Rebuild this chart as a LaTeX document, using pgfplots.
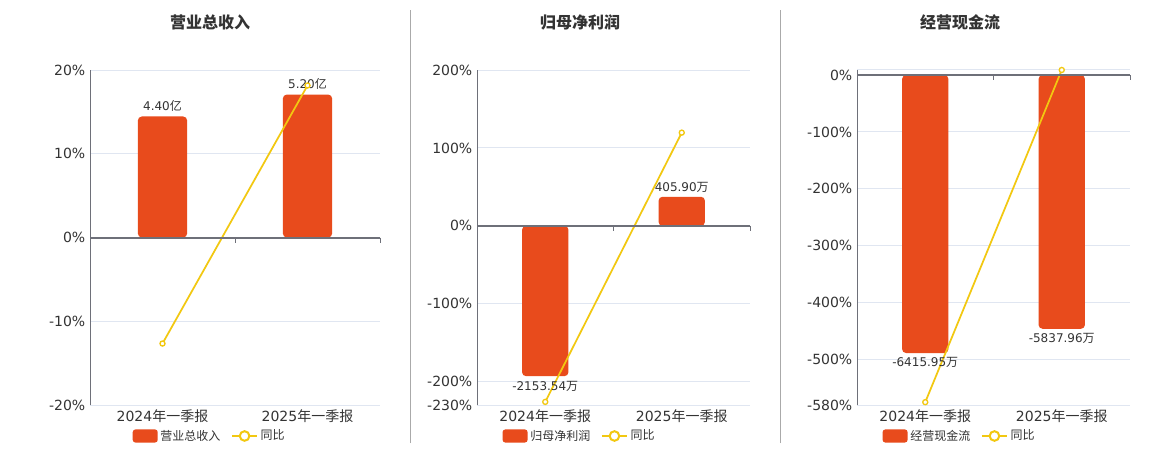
\documentclass[border=0pt]{standalone}
\usepackage{fontspec}
\setmainfont{DejaVu Sans}
\newfontfamily\cjk{Noto Sans CJK SC}
\usepackage{pgfplots}
\pgfplotsset{compat=1.18}

\definecolor{barred}{HTML}{E84B1C}
\definecolor{lineyel}{HTML}{F2C811}
\definecolor{gridc}{HTML}{E0E6F1}
\definecolor{axisc}{HTML}{6E7079}
\definecolor{txt}{HTML}{333333}
\definecolor{sepc}{HTML}{AAAAAA}

\pgfplotsset{
  panel/.style={
    scale only axis, height=251.25pt, anchor=south west,
    xmin=-0.5, xmax=1.5, xtick={0,1},
    xticklabels={2024{\cjk 年一季报},2025{\cjk 年一季报}},
    axis line style={draw=none},
    major tick length=0pt,
    ymajorgrids, major grid style={gridc, line width=0.75pt},
    /pgf/number format/assume math mode=true,
    /pgf/number format/1000 sep={},
    yticklabel={\pgfmathprintnumber{\tick}\%},
    tick label style={font=\fontsize{10.5}{12}\selectfont, text=txt},
    clip=false,
    legend columns=2,
    legend style={draw=none, fill=none, anchor=center,
      font=\cjk\fontsize{9}{11}\selectfont, text=txt,
      /tikz/every even column/.append style={column sep=6pt}},
  },
  bars/.style={ybar, bar width=0.34, fill=barred, draw=none,
    rounded corners=3pt, point meta=explicit,
    every node near coord/.append style={font=\fontsize{9}{11}\selectfont, text=txt},
    legend image code/.code={\fill[barred, rounded corners=2pt] (0pt,-4.9pt) rectangle (18.75pt,4.9pt);}},
  yoy/.style={lineyel, line width=1.3pt, mark=*, mark size=1.9pt,
    mark options={fill=white, draw=lineyel, line width=1pt},
    legend image code/.code={\draw[lineyel, line width=1.5pt] (0pt,0pt) -- (18.75pt,0pt);
      \draw[lineyel, line width=1.5pt, fill=white] (9.4pt,0pt) circle (3.6pt);}},
}

\newcommand{\axisdeco}{%
  \draw[axisc, line width=0.75pt] (rel axis cs:0,0) -- (rel axis cs:0,1);
  \draw[axisc, line width=1.5pt] (axis cs:-0.5,0) -- (axis cs:1.5,0);
  \draw[axisc, line width=0.75pt] (axis cs:0.5,0) -- ([yshift=-3.75pt]axis cs:0.5,0);
  \draw[axisc, line width=0.75pt] (axis cs:1.5,0) -- ([yshift=-3.75pt]axis cs:1.5,0);
}

\begin{document}
\begin{tikzpicture}
\fill[white] (0,0) rectangle (870pt,337.5pt);
\useasboundingbox (0,0) rectangle (870pt,337.5pt);

% separators
\draw[sepc, line width=0.75pt] (307.5pt,5.25pt) -- (307.5pt,330pt);
\draw[sepc, line width=0.75pt] (585pt,5.25pt) -- (585pt,330pt);

% titles
\node[font=\cjk\bfseries\fontsize{12}{14}\selectfont, text=txt] at (157.5pt,321pt) {营业总收入};
\node[font=\cjk\bfseries\fontsize{12}{14}\selectfont, text=txt] at (435pt,321pt) {归母净利润};
\node[font=\cjk\bfseries\fontsize{12}{14}\selectfont, text=txt] at (720pt,321pt) {经营现金流};

% panel 1
\begin{axis}[panel, at={(67.5pt,33.75pt)}, width=217.5pt,
    ymin=-20, ymax=20, ytick={-20,-10,0,10,20},
    legend style={at={(0.414,-0.0925)}}]
\addplot[bars, nodes near coords={\pgfmathprintnumber[fixed,precision=2,zerofill]{\pgfplotspointmeta}{\cjk 亿}}]
  coordinates {(0,14.45) [4.40] (1,17.07) [5.20]};
\addlegendentry{营业总收入}
\addplot[yoy] coordinates {(0,-12.66) (1,18.15)};
\addlegendentry{同比}
\axisdeco
\end{axis}

% panel 2
\begin{axis}[panel, at={(357.75pt,33.75pt)}, width=204.75pt,
    ymin=-230, ymax=200, ytick={-230,-200,-100,0,100,200},
    legend style={at={(0.377,-0.0925)}}]
\addplot[bars, nodes near coords={\pgfmathprintnumber[fixed,precision=2,zerofill]{\pgfplotspointmeta}{\cjk 万}}]
  coordinates {(0,-193) [-2153.54] (1,37.3) [405.90]};
\addlegendentry{归母净利润}
\addplot[yoy] coordinates {(0,-226) (1,119.6)};
\addlegendentry{同比}
\axisdeco
\end{axis}

% panel 3
\begin{axis}[panel, at={(642.75pt,33.75pt)}, width=204.75pt,
    ymin=-580, ymax=9, ytick={-580,-500,-400,-300,-200,-100,0},
    extra y ticks={9}, extra y tick labels={}, extra y tick style={grid=major},
    legend style={at={(0.377,-0.0925)}}]
\addplot[bars, nodes near coords={\pgfmathprintnumber[fixed,precision=2,zerofill]{\pgfplotspointmeta}{\cjk 万}}]
  coordinates {(0,-488.6) [-6415.95] (1,-446) [-5837.96]};
\addlegendentry{经营现金流}
\addplot[yoy] coordinates {(0,-575) (1,9)};
\addlegendentry{同比}
\axisdeco
\end{axis}
\end{tikzpicture}
\end{document}
